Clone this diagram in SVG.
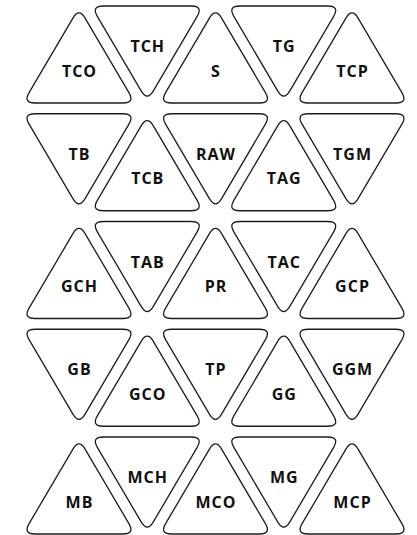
<svg xmlns="http://www.w3.org/2000/svg" xmlns:xlink="http://www.w3.org/1999/xlink" width="417" height="535" viewBox="0 0 417 535">
<style>
.tri{fill:#ffffff;stroke:#1c1c1c;stroke-width:1.3;stroke-linejoin:round}
.lbl{font-family:"Open Sans","Noto Sans","DejaVu Sans",sans-serif;font-weight:700;font-size:16px;letter-spacing:1px;fill:#111111;text-anchor:middle}
</style>
<defs>
<path id="down" class="tri" d="M -44,0 L 44,0 Q 56,0 49.92,10.35 L 6.08,84.86 Q 0,95.2 -6.08,84.86 L -49.92,10.35 Q -56,0 -44,0 Z"/>
<path id="up" class="tri" d="M -44,97 L 44,97 Q 56,97 49.92,86.65 L 6.08,12.14 Q 0,1.8 -6.08,12.14 L -49.92,86.65 Q -56,97 -44,97 Z"/>
</defs>
<rect width="417" height="535" fill="#ffffff"/>
<g id="connectors"/>
<!-- row 1 -->
<g id="TCO" transform="translate(79,6)"><use href="#up"/><text class="lbl" x="0.5" y="70.5">TCO</text></g>
<g id="TCH" transform="translate(147.25,6)"><use href="#down"/><text class="lbl" x="0.5" y="46">TCH</text></g>
<g id="S" transform="translate(215.5,6)"><use href="#up"/><text class="lbl" x="0.5" y="70.5">S</text></g>
<g id="TG" transform="translate(283.75,6)"><use href="#down"/><text class="lbl" x="0.5" y="46">TG</text></g>
<g id="TCP" transform="translate(352,6)"><use href="#up"/><text class="lbl" x="0.5" y="70.5">TCP</text></g>
<!-- row 2 -->
<g id="TB" transform="translate(79,113.75)"><use href="#down"/><text class="lbl" x="0.5" y="46">TB</text></g>
<g id="TCB" transform="translate(147.25,113.75)"><use href="#up"/><text class="lbl" x="0.5" y="70.5">TCB</text></g>
<g id="RAW" transform="translate(215.5,113.75)"><use href="#down"/><text class="lbl" x="0.5" y="46">RAW</text></g>
<g id="TAG" transform="translate(283.75,113.75)"><use href="#up"/><text class="lbl" x="0.5" y="70.5">TAG</text></g>
<g id="TGM" transform="translate(352,113.75)"><use href="#down"/><text class="lbl" x="0.5" y="46">TGM</text></g>
<!-- row 3 -->
<g id="GCH" transform="translate(79,221.5)"><use href="#up"/><text class="lbl" x="0.5" y="70.5">GCH</text></g>
<g id="TAB" transform="translate(147.25,221.5)"><use href="#down"/><text class="lbl" x="0.5" y="46">TAB</text></g>
<g id="PR" transform="translate(215.5,221.5)"><use href="#up"/><text class="lbl" x="0.5" y="70.5">PR</text></g>
<g id="TAC" transform="translate(283.75,221.5)"><use href="#down"/><text class="lbl" x="0.5" y="46">TAC</text></g>
<g id="GCP" transform="translate(352,221.5)"><use href="#up"/><text class="lbl" x="0.5" y="70.5">GCP</text></g>
<!-- row 4 -->
<g id="GB" transform="translate(79,329.25)"><use href="#down"/><text class="lbl" x="0.5" y="46">GB</text></g>
<g id="GCO" transform="translate(147.25,329.25)"><use href="#up"/><text class="lbl" x="0.5" y="70.5">GCO</text></g>
<g id="TP" transform="translate(215.5,329.25)"><use href="#down"/><text class="lbl" x="0.5" y="46">TP</text></g>
<g id="GG" transform="translate(283.75,329.25)"><use href="#up"/><text class="lbl" x="0.5" y="70.5">GG</text></g>
<g id="GGM" transform="translate(352,329.25)"><use href="#down"/><text class="lbl" x="0.5" y="46">GGM</text></g>
<!-- row 5 -->
<g id="MB" transform="translate(79,437)"><use href="#up"/><text class="lbl" x="0.5" y="70.5">MB</text></g>
<g id="MCH" transform="translate(147.25,437)"><use href="#down"/><text class="lbl" x="0.5" y="46">MCH</text></g>
<g id="MCO" transform="translate(215.5,437)"><use href="#up"/><text class="lbl" x="0.5" y="70.5">MCO</text></g>
<g id="MG" transform="translate(283.75,437)"><use href="#down"/><text class="lbl" x="0.5" y="46">MG</text></g>
<g id="MCP" transform="translate(352,437)"><use href="#up"/><text class="lbl" x="0.5" y="70.5">MCP</text></g>
</svg>
